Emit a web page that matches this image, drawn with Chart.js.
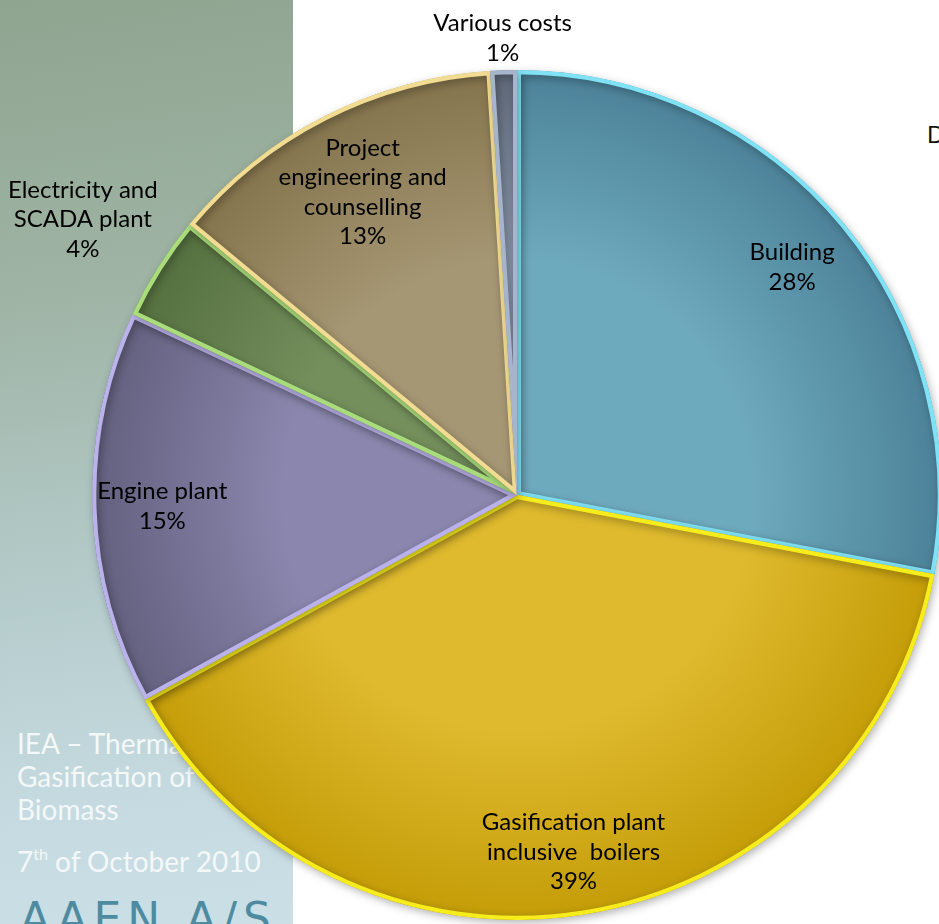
<!DOCTYPE html>
<html>
<head>
<meta charset="utf-8">
<script src="https://cdn.jsdelivr.net/npm/chart.js@4.4.0/dist/chart.umd.min.js"></script>
<style>
  html, body { margin: 0; padding: 0; width: 939px; height: 924px; overflow: hidden; background: #fff; }
  #panel {
    position: absolute; left: 0; top: 0; width: 293px; height: 924px;
    background: linear-gradient(172deg, #8fa590 0%, #9eb3a3 30%, #b3cac9 60%, #c6dbe1 85%, #cadfe6 100%);
  }
  .side {
    position: absolute; left: 17px; color: #f4f8f8; font-family: Lato, "Open Sans", sans-serif;
    font-size: 28px; line-height: 33px; white-space: nowrap;
  }
  .side sup { font-size: 16px; vertical-align: 12px; line-height: 0; }
  #brand {
    position: absolute; left: 20px; top: 893px; color: #4e8ba0;
    font-family: "DejaVu Sans", sans-serif; font-size: 44px; letter-spacing: 6px; white-space: nowrap;
  }
  #cut {
    position: absolute; left: 927px; top: 120px; font-family: Lato, sans-serif; font-size: 23px; color: #111;
  }
  #wrap { position: absolute; left: 0; top: 0; width: 1000px; height: 924px; }
</style>
</head>
<body>
<div id="panel"></div>
<div class="side" style="top:727px">IEA – Thermal<br>Gasification of<br>Biomass</div>
<div class="side" style="top:845px">7<sup>th</sup> of October 2010</div>
<div id="brand">AAEN A/S</div>
<div id="cut">D</div>
<div id="wrap"><canvas id="pie" width="1000" height="924"></canvas></div>

<script>
// ================= DATA =================
const categories = [
  ["Building"],
  ["Gasification plant", "inclusive  boilers"],
  ["Engine plant"],
  ["Electricity and", "SCADA plant"],
  ["Project", "engineering and", "counselling"],
  ["Various costs"]
];
const shares = [28, 39, 15, 4, 13, 1];

// ================= STYLE =================
// [inner colour, outer colour, border]
const palette = [
  ["#6eaabe", "#4c8299", "#80e2f5"],
  ["#dfba2e", "#c49d08", "#f7ec1c"],
  ["#8a86ad", "#64607f", "#bab2ea"],
  ["#748f5c", "#55703f", "#a9dc7a"],
  ["#a69774", "#84744c", "#f2dc92"],
  ["#8c9bb0", "#5f6878", "#a6b5cc"]
];
// where each label sits, as a fraction of the radius along the slice middle
const labelRadius = [0.84, 0.85, 0.835, 1.21, 0.8, 1.075];

function sliceFill(ctx) {
  const c = palette[ctx.dataIndex];
  const area = ctx.chart.chartArea;
  if (!area) return c[0];
  const cx = (area.left + area.right) / 2;
  const cy = (area.top + area.bottom) / 2;
  const r = Math.min(area.width, area.height) / 2;
  const g = ctx.chart.ctx.createRadialGradient(cx, cy, 0, cx, cy, r);
  g.addColorStop(0, c[0]);
  g.addColorStop(0.55, c[0]);
  g.addColorStop(1, c[1]);
  return g;
}

// soft drop shadow under the pie
const pieShadow = {
  id: "pieShadow",
  beforeDatasetsDraw(chart) {
    const ctx = chart.ctx;
    ctx.save();
    ctx.shadowColor = "rgba(0,0,0,0.3)";
    ctx.shadowBlur = 8;
    ctx.shadowOffsetX = 2;
    ctx.shadowOffsetY = 3;
  },
  afterDatasetsDraw(chart) {
    chart.ctx.restore();
  }
};

// category name + percentage on each slice
const sliceLabels = {
  id: "sliceLabels",
  afterDraw(chart) {
    const ctx = chart.ctx;
    const meta = chart.getDatasetMeta(0);
    const total = shares.reduce((a, b) => a + b, 0);
    ctx.save();
    ctx.font = "24px Lato, 'Open Sans', sans-serif";
    ctx.fillStyle = "#000";
    ctx.textAlign = "center";
    ctx.textBaseline = "middle";
    const lh = 29.5;
    meta.data.forEach((arc, i) => {
      const p = arc.getProps(["x", "y", "startAngle", "endAngle", "outerRadius"], true);
      const mid = (p.startAngle + p.endAngle) / 2;
      const rr = p.outerRadius * labelRadius[i];
      const x = p.x + Math.cos(mid) * rr;
      const y = p.y + Math.sin(mid) * rr;
      const lines = categories[i].concat([Math.round(shares[i] / total * 100) + "%"]);
      const y0 = y - (lines.length - 1) * lh / 2;
      lines.forEach((t, k) => ctx.fillText(t, x, y0 + k * lh));
    });
    ctx.restore();
  }
};

new Chart(document.getElementById("pie"), {
  type: "pie",
  data: {
    labels: categories.map(c => c.join(" ")),
    datasets: [{
      data: shares,
      backgroundColor: sliceFill,
      borderColor: palette.map(c => c[2]),
      borderWidth: 4,
      borderAlign: "inner"
    }]
  },
  options: {
    responsive: false,
    animation: false,
    devicePixelRatio: 1,
    layout: { padding: { left: 92, right: 58, top: 70, bottom: 4 } },
    plugins: { legend: { display: false }, tooltip: { enabled: false } }
  },
  plugins: [pieShadow, sliceLabels]
});
</script>
</body>
</html>
